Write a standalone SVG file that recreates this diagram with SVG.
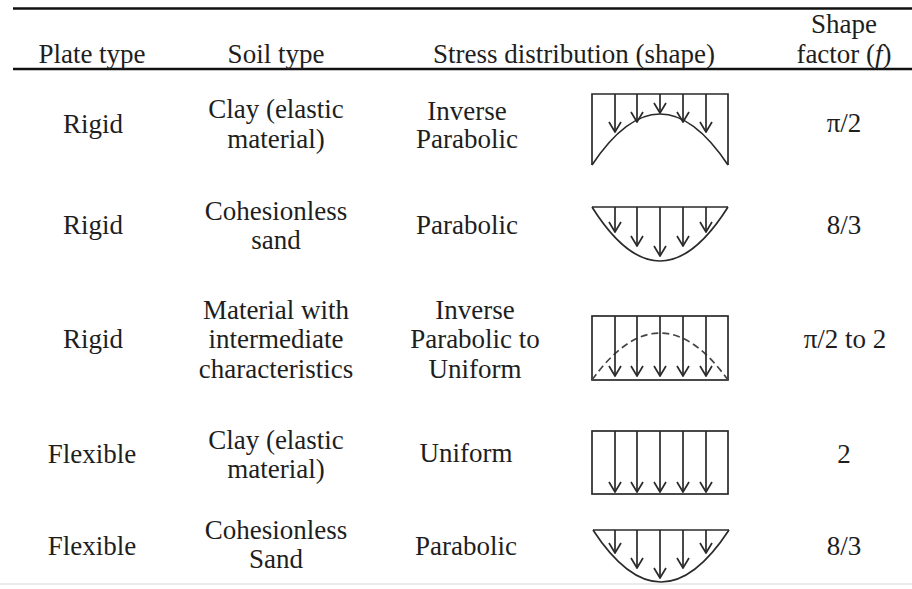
<svg xmlns="http://www.w3.org/2000/svg" width="912" height="589" viewBox="0 0 912 589">
<defs>
<style>
text{font-family:"Liberation Serif","Times New Roman",serif;font-size:27px;fill:#1e1e1e;text-anchor:middle}
.rule{stroke:#111;stroke-width:2.6}
.sh{fill:none;stroke:#2a2a2a;stroke-width:1.7}
.ar{fill:none;stroke:#2a2a2a;stroke-width:1.7;marker-end:url(#v)}
.dash{fill:none;stroke:#444;stroke-width:1.7;stroke-dasharray:7 4}
</style>
<marker id="v" viewBox="-1 -7 12 14" refX="10" refY="0" markerWidth="12" markerHeight="14" markerUnits="userSpaceOnUse" orient="auto">
<path d="M0,-6 L10,0 L0,6" fill="none" stroke="#2a2a2a" stroke-width="1.7"/>
</marker>
</defs>
<rect width="912" height="589" fill="#fff"/>
<g id="rules">
<line class="rule" x1="13" y1="8.5" x2="912" y2="8.5"/>
<line class="rule" x1="13" y1="69" x2="912" y2="69"/>
<line x1="0" y1="584" x2="912" y2="584" stroke="#ebebeb" stroke-width="2"/>
</g>
<g id="header">
<text x="92" y="63">Plate type</text>
<text x="276" y="63">Soil type</text>
<text x="574" y="63">Stress distribution (shape)</text>
<text x="844" y="33">Shape</text>
<text x="844" y="63">factor (<tspan font-style="italic">f</tspan>)</text>
</g>
<g id="row1">
<text x="93" y="133">Rigid</text>
<text x="276" y="118">Clay (elastic</text>
<text x="276" y="148">material)</text>
<text x="467" y="120">Inverse</text>
<text x="467" y="148">Parabolic</text>
<text x="844" y="132">π/2</text>
<g id="shape1">
<path class="sh" d="M592,165 V94 H728 V165"/>
<path class="sh" d="M592,165 Q660,63 728,165"/>
<line class="ar" x1="615" y1="94" x2="615" y2="132"/>
<line class="ar" x1="637" y1="94" x2="637" y2="122"/>
<line class="ar" x1="660" y1="94" x2="660" y2="113"/>
<line class="ar" x1="683" y1="94" x2="683" y2="122"/>
<line class="ar" x1="706" y1="94" x2="706" y2="132"/>
</g>
</g>
<g id="row2">
<text x="93" y="234">Rigid</text>
<text x="276" y="220">Cohesionless</text>
<text x="276" y="249">sand</text>
<text x="467" y="234">Parabolic</text>
<text x="844" y="234">8/3</text>
<g id="shape2">
<line class="sh" x1="592" y1="207" x2="728" y2="207"/>
<path class="sh" d="M592,207 Q660,315 728,207"/>
<line class="ar" x1="615" y1="207" x2="615" y2="232"/>
<line class="ar" x1="637" y1="207" x2="637" y2="246"/>
<line class="ar" x1="660" y1="207" x2="660" y2="256"/>
<line class="ar" x1="683" y1="207" x2="683" y2="246"/>
<line class="ar" x1="706" y1="207" x2="706" y2="232"/>
</g>
</g>
<g id="row3">
<text x="93" y="348">Rigid</text>
<text x="276" y="319">Material with</text>
<text x="276" y="348">intermediate</text>
<text x="276" y="378">characteristics</text>
<text x="475" y="319">Inverse</text>
<text x="475" y="348">Parabolic to</text>
<text x="475" y="378">Uniform</text>
<text x="845" y="348">π/2 to 2</text>
<g id="shape3">
<rect class="sh" x="592" y="316" width="136" height="64"/>
<path class="dash" d="M592,380 Q660,286 728,380"/>
<line class="ar" x1="615" y1="316" x2="615" y2="376"/>
<line class="ar" x1="637" y1="316" x2="637" y2="376"/>
<line class="ar" x1="660" y1="316" x2="660" y2="376"/>
<line class="ar" x1="683" y1="316" x2="683" y2="376"/>
<line class="ar" x1="706" y1="316" x2="706" y2="376"/>
</g>
</g>
<g id="row4">
<text x="92" y="463">Flexible</text>
<text x="276" y="449">Clay (elastic</text>
<text x="276" y="478">material)</text>
<text x="466" y="462">Uniform</text>
<text x="844" y="463">2</text>
<g id="shape4">
<rect class="sh" x="592" y="431" width="136" height="63"/>
<line class="ar" x1="615" y1="431" x2="615" y2="492"/>
<line class="ar" x1="637" y1="431" x2="637" y2="492"/>
<line class="ar" x1="660" y1="431" x2="660" y2="492"/>
<line class="ar" x1="683" y1="431" x2="683" y2="492"/>
<line class="ar" x1="706" y1="431" x2="706" y2="492"/>
</g>
</g>
<g id="row5">
<text x="92" y="555">Flexible</text>
<text x="276" y="539">Cohesionless</text>
<text x="276" y="568">Sand</text>
<text x="466" y="555">Parabolic</text>
<text x="844" y="555">8/3</text>
<g id="shape5">
<line class="sh" x1="593" y1="530" x2="729" y2="530"/>
<path class="sh" d="M593,530 Q661,634 729,530"/>
<line class="ar" x1="615" y1="530" x2="615" y2="553"/>
<line class="ar" x1="637" y1="530" x2="637" y2="568"/>
<line class="ar" x1="660" y1="530" x2="660" y2="578"/>
<line class="ar" x1="683" y1="530" x2="683" y2="568"/>
<line class="ar" x1="706" y1="530" x2="706" y2="553"/>
</g>
</g>
</svg>
